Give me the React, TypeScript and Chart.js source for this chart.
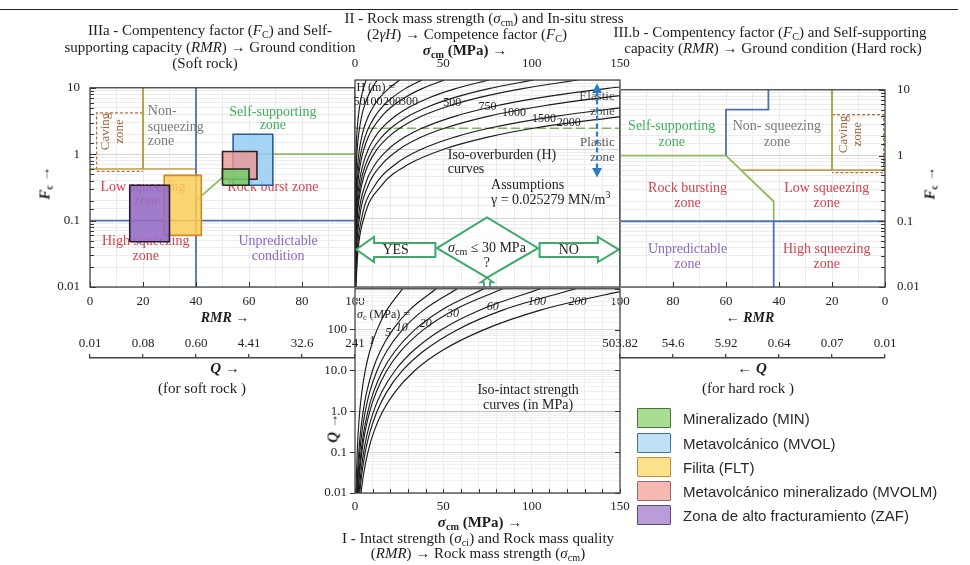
import React, { useEffect, useRef } from 'react';
import { Chart, registerables } from 'chart.js';

Chart.register(...registerables);

const SERIF = '"Liberation Serif", "Times New Roman", serif';
const SANS = '"Liberation Sans", Arial, sans-serif';

// ---------------- DATA ----------------
const softQLabels = ['0.01', '0.08', '0.60', '4.41', '32.6', '241'];
const hardQLabels = ['0.01', '0.07', '0.64', '5.92', '54.6', '503.82'];
const fcMajorValues = [0.01, 0.1, 1, 10];
const fcMajorLabels = ['0.01', '0.1', '1', '10'];
const qMajorValues = [0.01, 0.1, 1, 10, 100];
const qMajorLabels = ['0.01', '0.1', '1.0', '10.0', '100'];
const sigmaMajorValues = [0, 50, 100, 150];

// lithological units plotted on soft-rock panel
const unitNames = [
  'Mineralizado (MIN)',
  'Metavolcánico (MVOL)',
  'Filita (FLT)',
  'Metavolcánico mineralizado (MVOLM)',
  'Zona de alto fracturamiento (ZAF)',
];
const unitRmrMin = [50, 54, 28, 50, 15];
const unitRmrMax = [60, 69, 42, 63, 30];
const unitFcMin = [0.34, 0.34, 0.06, 0.42, 0.048];
const unitFcMax = [0.6, 2.0, 0.48, 1.1, 0.34];

// zone boundaries, soft rock (RMR, Fc)
const softBlueV = [[40, 0.01], [40, 10]];
const softBlueH = [[0, 0.1], [100, 0.1]];
const softOliveV = [[20, 0.6], [20, 10]];
const softTanH = [[0, 0.6], [40, 0.6]];
const softCaving = [[20, 4.2], [2.5, 4.2], [2.5, 0.55], [20, 0.55]];
const softGreen = [[40, 0.1], [40, 0.2], [60, 1], [100, 1]];

// zone boundaries, hard rock (RMR, Fc)
const hardBlueUpper = [[44, 10], [44, 5], [60, 5], [60, 1]];
const hardBlueH = [[0, 0.1], [100, 0.1]];
const hardBlueV = [[42, 0.1], [42, 0.01]];
const hardGreen = [[100, 1], [60, 1], [42, 0.2], [42, 0.1]];
const hardOliveV = [[20, 0.6], [20, 10]];
const hardTanH = [[0, 0.6], [54, 0.6]];
const hardCaving = [[20, 4.2], [0.5, 4.2], [0.5, 0.55], [20, 0.55]];

// iso-overburden curves: sigma_cm (MPa) read at each Fc level
const fcLevels = [0.01, 0.03, 0.1, 0.3, 0.6, 1, 1.5, 2, 3, 4, 5.5, 7.5, 10];
const sigmaH25 = [0.006, 0.019, 0.063, 0.19, 0.38, 0.63, 0.95, 1.26, 1.9, 2.53, 3.48, 4.74, 6.32];
const sigmaH50 = [0.013, 0.038, 0.13, 0.38, 0.76, 1.26, 1.9, 2.53, 3.79, 5.06, 6.95, 9.48, 12.6];
const sigmaH100 = [0.025, 0.076, 0.25, 0.76, 1.52, 2.53, 3.79, 5.06, 7.58, 10.1, 13.9, 19.0, 25.3];
const sigmaH150 = [0.038, 0.114, 0.38, 1.14, 2.28, 3.79, 5.69, 7.58, 11.4, 15.2, 20.9, 28.4, 37.9];
const sigmaH200 = [0.051, 0.152, 0.51, 1.52, 3.03, 5.06, 7.58, 10.1, 15.2, 20.2, 27.8, 37.9, 50.6];
const sigmaH300 = [0.076, 0.228, 0.76, 2.28, 4.55, 7.58, 11.4, 15.2, 22.8, 30.3, 41.7, 56.9, 75.8];
const sigmaH400 = [0.1, 0.303, 1.01, 3.03, 6.07, 10.1, 15.2, 20.2, 30.3, 40.4, 55.6, 75.8, 101];
const sigmaH500 = [0.13, 0.379, 1.26, 3.79, 7.58, 12.6, 19.0, 25.3, 37.9, 50.6, 69.5, 94.8, 126];
const sigmaH750 = [0.19, 0.569, 1.9, 5.69, 11.4, 19.0, 28.4, 37.9, 56.9, 75.8, 104, 142, 190];
const sigmaH1000 = [0.25, 0.758, 2.53, 7.58, 15.2, 25.3, 37.9, 50.6, 75.8, 101, 139, 190, 253];
const sigmaH1500 = [0.38, 1.14, 3.79, 11.4, 22.8, 37.9, 56.9, 75.8, 114, 152, 209, 284, 379];
const sigmaH2000 = [0.51, 1.52, 5.06, 15.2, 30.3, 50.6, 75.8, 101, 152, 202, 278, 379, 506];
const overburdenCurves = [sigmaH25, sigmaH50, sigmaH100, sigmaH150, sigmaH200, sigmaH300, sigmaH400, sigmaH500, sigmaH750, sigmaH1000, sigmaH1500, sigmaH2000];

// iso-intact-strength curves: sigma_cm (MPa) read at each Q level
const qLevels = [0.01, 0.03, 0.1, 0.3, 1, 3, 10, 30, 100, 300, 1000];
const sigmaCi1 = [0.58, 0.84, 1.25, 1.8, 2.69, 3.88, 5.8, 8.37, 12.5, 18.0, 26.9];
const sigmaCi5 = [0.99, 1.44, 2.14, 3.08, 4.6, 6.63, 9.92, 14.3, 21.4, 30.8, 46.0];
const sigmaCi10 = [1.25, 1.81, 2.69, 3.88, 5.8, 8.36, 12.5, 18.0, 26.9, 38.8, 57.9];
const sigmaCi20 = [1.57, 2.28, 3.39, 4.89, 7.3, 10.5, 15.7, 22.7, 33.9, 48.9, 73.0];
const sigmaCi30 = [1.8, 2.61, 3.88, 5.59, 8.36, 12.1, 18.0, 26.0, 38.8, 55.9, 83.6];
const sigmaCi60 = [2.27, 3.29, 4.89, 7.05, 10.5, 15.2, 22.7, 32.8, 48.9, 70.5, 105];
const sigmaCi100 = [2.69, 3.9, 5.8, 8.36, 12.5, 18.0, 26.9, 38.9, 58.0, 83.6, 125];
const sigmaCi200 = [3.39, 4.91, 7.31, 10.5, 15.7, 22.7, 33.9, 48.9, 73.1, 105, 157];
const intactCurves = [sigmaCi1, sigmaCi5, sigmaCi10, sigmaCi20, sigmaCi30, sigmaCi60, sigmaCi100, sigmaCi200];

const elasticPlasticLine = [[0, 2], [150, 2]];

// ---------------- STYLES ----------------
const unitFill = ['rgba(120,205,105,0.85)', 'rgba(150,205,242,0.85)', 'rgba(252,206,90,0.85)', 'rgba(236,150,150,0.8)', 'rgba(150,110,196,0.9)'];
const unitStroke = ['#1f2a1f', '#2a5d96', '#d08a20', '#2a2020', '#231a35'];
const unitOrder = [1, 3, 2, 2, 1];
const legendFill = ['#a9de90', '#bfe1f6', '#fde08c', '#f6b8b0', '#b99cd8'];
const legendStroke = ['#4b6e44', '#4a6c8e', '#b99038', '#8e6a6a', '#5b4a7a'];

const C_BLUE = '#4f73a8';
const C_GREEN = '#8fbc5e';
const C_OLIVE = '#ab9d3c';
const C_TAN = '#c99a4c';
const C_CAVE = '#b07040';
const T_RED = '#d4424f';
const T_GREEN = '#3fae5c';
const T_GREY = '#7a7a7a';
const T_PURPLE = '#8b66c4';
const T_BROWN = '#a4643c';
const C_DEC = '#3da96a';

// ---------------- helpers ----------------
const isPow10 = (v) => v > 0 && Math.abs(Math.log10(v) - Math.round(Math.log10(v))) < 1e-7;
const lookupLabel = (values, labels) => (v) => {
  const i = values.findIndex((m) => Math.abs(v - m) <= Math.abs(m) * 1e-6 + 1e-12);
  return i >= 0 ? labels[i] : '';
};
const pairs = (arr) => arr.map(([x, y]) => ({ x, y }));
const zip = (xs, ys) => xs.map((x, i) => ({ x, y: ys[i] }));
const trimX = (pts, maxX) => {
  const out = [];
  for (const p of pts) {
    out.push(p);
    if (p.x > maxX) break;
  }
  return out;
};
const lineDs = (pts, color, width = 1.6, dash = [], order = 10) => ({
  type: 'line',
  data: pairs(pts),
  borderColor: color,
  borderWidth: width,
  borderDash: dash,
  pointRadius: 0,
  fill: false,
  tension: 0,
  order,
});
const curveDs = (pts) => ({
  type: 'line',
  data: pts,
  borderColor: '#1b1b1b',
  borderWidth: 1.15,
  pointRadius: 0,
  fill: false,
  cubicInterpolationMode: 'monotone',
  order: 5,
});
const logGrid = (ctx) => (ctx.tick && isPow10(ctx.tick.value) ? '#d2d2d2' : '#ececec');
const tickFont = { family: SERIF, size: 13 };

function drawRich(ctx, parts, x, y, o) {
  const size = o.size || 14;
  const family = o.family || SERIF;
  const segs = typeof parts === 'string' ? [[parts, '']] : parts;
  ctx.save();
  ctx.translate(x, y);
  if (o.rotate) ctx.rotate((o.rotate * Math.PI) / 180);
  const fontFor = (f) =>
    `${f.includes('i') || o.italic ? 'italic ' : ''}${f.includes('b') || o.bold ? 'bold ' : ''}${f.includes('s') || f.includes('p') ? Math.round(size * 0.68) : size}px ${family}`;
  let total = 0;
  const widths = segs.map(([t, f = '']) => {
    ctx.font = fontFor(f);
    const w = ctx.measureText(t).width;
    total += w;
    return w;
  });
  const align = o.align || 'center';
  let cx = align === 'center' ? -total / 2 : align === 'right' ? -total : 0;
  ctx.fillStyle = o.color || '#222';
  ctx.textBaseline = 'middle';
  ctx.textAlign = 'left';
  segs.forEach(([t, f = ''], i) => {
    ctx.font = fontFor(f);
    const dy = f.includes('s') ? size * 0.3 : f.includes('p') ? -size * 0.35 : 0;
    ctx.fillText(t, cx, dy);
    cx += widths[i];
  });
  ctx.restore();
}

function makeDeco(cfg) {
  return {
    id: 'deco',
    beforeDatasetsDraw(chart) {
      const xs = chart.scales.x;
      const ys = chart.scales.y;
      (cfg.texts || []).forEach((t) => drawRich(chart.ctx, t.parts, xs.getPixelForValue(t.x), ys.getPixelForValue(t.y), t));
    },
    afterDatasetsDraw(chart) {
      const { ctx, chartArea: a } = chart;
      const xs = chart.scales.x;
      const ys = chart.scales.y;
      (cfg.shapes || []).forEach((s) => {
        ctx.save();
        ctx.beginPath();
        s.pts.forEach(([x, y], i) => {
          const px = xs.getPixelForValue(x);
          const py = ys.getPixelForValue(y);
          if (i === 0) ctx.moveTo(px, py);
          else ctx.lineTo(px, py);
        });
        if (s.closed) ctx.closePath();
        if (s.fill) {
          ctx.fillStyle = s.fill;
          ctx.fill();
        }
        if (s.color) {
          ctx.setLineDash(s.dash || []);
          ctx.strokeStyle = s.color;
          ctx.lineWidth = s.width || 1.5;
          ctx.lineJoin = 'miter';
          ctx.stroke();
        }
        ctx.restore();
      });
      (cfg.topTexts || []).forEach((t) => drawRich(ctx, t.parts, xs.getPixelForValue(t.x), ys.getPixelForValue(t.y), t));
      ctx.save();
      ctx.strokeStyle = '#333';
      ctx.lineWidth = 1;
      (cfg.innerTicks || []).forEach((sp) => {
        const len = sp.len || 4;
        if (sp.axis === 'y') {
          ys.ticks.forEach((t) => {
            if (sp.major && !isPow10(t.value)) return;
            const py = Math.round(ys.getPixelForValue(t.value)) + 0.5;
            const x0 = sp.side === 'left' ? a.left : a.right;
            const dir = sp.side === 'left' ? 1 : -1;
            ctx.beginPath();
            ctx.moveTo(x0, py);
            ctx.lineTo(x0 + dir * (isPow10(t.value) ? len + 2 : len), py);
            ctx.stroke();
          });
        } else {
          for (let v = xs.min; v <= xs.max + 1e-9; v += sp.step) {
            const px = Math.round(xs.getPixelForValue(v)) + 0.5;
            ctx.beginPath();
            ctx.moveTo(px, a.bottom);
            ctx.lineTo(px, a.bottom - len);
            ctx.stroke();
          }
        }
      });
      ctx.restore();
      if (cfg.frame !== false) {
        ctx.save();
        ctx.strokeStyle = '#3a3a3a';
        ctx.lineWidth = 1.2;
        ctx.strokeRect(a.left, a.top, a.right - a.left, a.bottom - a.top);
        ctx.restore();
      }
    },
  };
}

const baseOptions = (padding) => ({
  responsive: false,
  animation: false,
  devicePixelRatio: 1,
  events: [],
  layout: { padding },
  plugins: { legend: { display: false }, tooltip: { enabled: false } },
});

// ---------------- chart configs ----------------
function rmrPanelConfig(hard) {
  const unitDatasets = unitNames.map((name, i) => ({
    type: 'line',
    label: name,
    data: pairs([
      [unitRmrMin[i], unitFcMin[i]],
      [unitRmrMax[i], unitFcMin[i]],
      [unitRmrMax[i], unitFcMax[i]],
      [unitRmrMin[i], unitFcMax[i]],
      [unitRmrMin[i], unitFcMin[i]],
    ]),
    borderColor: unitStroke[i],
    borderWidth: 1.6,
    backgroundColor: unitFill[i],
    fill: 'shape',
    pointRadius: 0,
    tension: 0,
    order: unitOrder[i],
  }));
  const datasets = hard
    ? [
        lineDs(hardBlueUpper, C_BLUE, 1.8),
        lineDs(hardBlueH, C_BLUE, 1.8),
        lineDs(hardBlueV, C_BLUE, 1.8),
        lineDs(hardGreen, C_GREEN, 1.8),
        lineDs(hardOliveV, C_OLIVE, 1.8),
        lineDs(hardTanH, C_TAN, 1.6),
        lineDs(hardCaving, C_CAVE, 1.2, [3, 2]),
      ]
    : [
        ...unitDatasets,
        lineDs(softBlueV, C_BLUE, 1.8),
        lineDs(softBlueH, C_BLUE, 1.8),
        lineDs(softGreen, C_GREEN, 1.8),
        lineDs(softOliveV, C_OLIVE, 1.8),
        lineDs(softTanH, C_TAN, 1.6),
        lineDs(softCaving, C_CAVE, 1.2, [3, 2]),
      ];
  const texts = hard
    ? [
        { x: 80.5, y: 2.75, parts: 'Self-supporting', color: T_GREEN },
        { x: 80.5, y: 1.6, parts: 'zone', color: T_GREEN },
        { x: 40.8, y: 2.75, parts: 'Non- squeezing', color: T_GREY },
        { x: 40.8, y: 1.6, parts: 'zone', color: T_GREY },
        { x: 15.8, y: 2.1, parts: 'Caving', color: T_BROWN, rotate: -90, size: 13 },
        { x: 10.3, y: 2.1, parts: 'zone', color: T_BROWN, rotate: -90, size: 13 },
        { x: 74.5, y: 0.32, parts: 'Rock bursting', color: T_RED },
        { x: 74.5, y: 0.19, parts: 'zone', color: T_RED },
        { x: 22, y: 0.32, parts: 'Low squeezing', color: T_RED },
        { x: 22, y: 0.19, parts: 'zone', color: T_RED },
        { x: 74.5, y: 0.037, parts: 'Unpredictable', color: T_PURPLE },
        { x: 74.5, y: 0.022, parts: 'zone', color: T_PURPLE },
        { x: 22, y: 0.037, parts: 'High squeezing', color: T_RED },
        { x: 22, y: 0.022, parts: 'zone', color: T_RED },
      ]
    : [
        { x: 5.7, y: 2.2, parts: 'Caving', color: T_BROWN, rotate: -90, size: 13 },
        { x: 11, y: 2.2, parts: 'zone', color: T_BROWN, rotate: -90, size: 13 },
        { x: 21.8, y: 4.4, parts: 'Non-', color: T_GREY, align: 'left' },
        { x: 21.8, y: 2.5, parts: 'squeezing', color: T_GREY, align: 'left' },
        { x: 21.8, y: 1.55, parts: 'zone', color: T_GREY, align: 'left' },
        { x: 69, y: 4.2, parts: 'Self-supporting', color: T_GREEN },
        { x: 69, y: 2.7, parts: 'zone', color: T_GREEN },
        { x: 20, y: 0.32, parts: 'Low squeezing', color: T_RED },
        { x: 21.5, y: 0.195, parts: 'zone', color: T_RED },
        { x: 69, y: 0.32, parts: 'Rock burst zone', color: T_RED },
        { x: 21, y: 0.048, parts: 'High squeezing', color: T_RED },
        { x: 21, y: 0.029, parts: 'zone', color: T_RED },
        { x: 71, y: 0.048, parts: 'Unpredictable', color: T_PURPLE },
        { x: 71, y: 0.029, parts: 'condition', color: T_PURPLE },
      ];
  return {
    type: 'line',
    data: { datasets },
    options: {
      ...baseOptions(hard ? { left: 25, top: 10, right: 0, bottom: 0 } : { left: 0, top: 10, right: 25, bottom: 0 }),
      scales: {
        x: {
          type: 'linear',
          min: 0,
          max: 100,
          reverse: hard,
          position: 'bottom',
          afterFit: (s) => {
            s.height = 43;
          },
          ticks: {
            stepSize: 10,
            autoSkip: false,
            maxRotation: 0,
            padding: 7,
            color: '#222',
            font: tickFont,
            callback: (v) => (v % 20 === 0 ? String(v) : ''),
          },
          grid: { color: '#ebebeb', drawTicks: false },
          border: { display: false },
        },
        y: {
          type: 'logarithmic',
          min: 0.01,
          max: 10,
          position: hard ? 'right' : 'left',
          afterFit: (s) => {
            s.width = hard ? 45 : 70;
          },
          ticks: {
            autoSkip: false,
            padding: hard ? 12 : 10,
            color: '#222',
            font: tickFont,
            callback: lookupLabel(fcMajorValues, fcMajorLabels),
          },
          grid: { color: logGrid, drawTicks: false },
          border: { display: false },
        },
      },
    },
    plugins: [
      makeDeco({
        texts,
        innerTicks: [
          { axis: 'y', side: hard ? 'right' : 'left', len: 4 },
          { axis: 'x', step: 20, len: 5 },
        ],
      }),
    ],
  };
}

function stressPanelConfig() {
  const datasets = [
    lineDs(elasticPlasticLine, '#7fb55a', 1.6, [9, 4], 8),
    ...overburdenCurves.map((sig) => curveDs(trimX(zip(sig, fcLevels), 150))),
  ];
  const lbl = (t, x, y) => ({ x, y, parts: t, size: 12 });
  const texts = [
    { x: 0.8, y: 7.6, parts: 'H (m) =', size: 12, align: 'left' },
    lbl('50', 2.6, 4.8),
    lbl('100', 10.5, 4.8),
    lbl('200', 21, 4.8),
    lbl('300', 30.5, 4.8),
    lbl('500', 55, 4.6),
    lbl('750', 75, 4.05),
    lbl('1000', 90, 3.35),
    lbl('1500', 107, 2.75),
    lbl('2000', 121, 2.4),
    { x: 147, y: 5.7, parts: 'Elastic', size: 13, align: 'right', color: '#555' },
    { x: 147, y: 3.45, parts: 'zone', size: 13, align: 'right', color: '#555' },
    { x: 147, y: 1.22, parts: 'Plastic', size: 13, align: 'right', color: '#555' },
    { x: 147, y: 0.74, parts: 'zone', size: 13, align: 'right', color: '#555' },
    { x: 52.5, y: 0.82, parts: 'Iso-overburden (H)', size: 14, align: 'left' },
    { x: 52.5, y: 0.5, parts: 'curves', size: 14, align: 'left' },
    { x: 77, y: 0.3, parts: 'Assumptions', size: 14, align: 'left' },
    { x: 77, y: 0.18, parts: [['γ = 0.025279 MN/m', ''], ['3', 'p']], size: 14, align: 'left' },
  ];
  const topTexts = [
    { x: 74.7, y: 0.0366, parts: [['σ', 'i'], ['cm', 's'], [' ≤ 30 MPa', '']], size: 14 },
    { x: 74.7, y: 0.0218, parts: '?', size: 14 },
    { x: 23, y: 0.0345, parts: 'YES', size: 14 },
    { x: 121, y: 0.0345, parts: 'NO', size: 14 },
  ];
  const shapes = [
    { pts: [[46.4, 0.0366], [74.7, 0.102], [103.6, 0.0366], [74.7, 0.0137]], closed: true, color: C_DEC, width: 2, fill: 'rgba(255,255,255,0.9)' },
    { pts: [[45.5, 0.0434], [10.8, 0.0434], [10.8, 0.0531], [0.7, 0.0349], [10.8, 0.023], [10.8, 0.0272], [45.5, 0.0272]], closed: true, color: C_DEC, width: 2, fill: '#fff' },
    { pts: [[104.5, 0.0434], [137.5, 0.0434], [137.5, 0.0531], [149.3, 0.0349], [137.5, 0.023], [137.5, 0.0272], [104.5, 0.0272]], closed: true, color: C_DEC, width: 2, fill: '#fff' },
    { pts: [[73, 0.0101], [73, 0.0117], [71.2, 0.0117], [74.7, 0.0136], [78.2, 0.0117], [76.4, 0.0117], [76.4, 0.0101]], closed: false, color: C_DEC, width: 1.8, fill: '#fff' },
    { pts: [[137, 0.52], [137, 6.8]], color: '#2b7cc2', width: 2.2, dash: [5, 3] },
    { pts: [[134.2, 6.5], [137, 8.9], [139.8, 6.5]], closed: true, fill: '#2b7cc2' },
    { pts: [[134.2, 0.53], [137, 0.385], [139.8, 0.53]], closed: true, fill: '#2b7cc2' },
  ];
  return {
    type: 'line',
    data: { datasets },
    options: {
      ...baseOptions({ left: 25, top: 0, right: 25, bottom: 3 }),
      scales: {
        x: {
          type: 'linear',
          min: 0,
          max: 150,
          position: 'top',
          afterFit: (s) => {
            s.height = 40;
          },
          ticks: {
            stepSize: 10,
            autoSkip: false,
            maxRotation: 0,
            padding: 9,
            color: '#222',
            font: tickFont,
            callback: (v) => (sigmaMajorValues.includes(v) ? String(v) : ''),
          },
          grid: { color: '#ebebeb', drawTicks: false },
          border: { display: false },
        },
        y: {
          type: 'logarithmic',
          min: 0.01,
          max: 10,
          afterFit: (s) => {
            s.width = 0;
          },
          ticks: { display: false, autoSkip: false },
          grid: { color: logGrid, drawTicks: false },
          border: { display: false },
        },
      },
    },
    plugins: [makeDeco({ texts, topTexts, shapes })],
  };
}

function intactPanelConfig() {
  const datasets = intactCurves.map((sig) => curveDs(trimX(zip(sig, qLevels), 150)));
  const l = (t, x, y) => ({ x, y, parts: t, size: 12, italic: true });
  const texts = [
    { x: 1.2, y: 235, parts: [['σ', 'i'], ['c', 's'], [' (MPa) =', '']], size: 12, align: 'left' },
    l('1', 9.6, 52),
    l('5', 18.8, 82),
    l('10', 26.5, 108),
    l('20', 40, 142),
    l('30', 55.5, 247),
    l('60', 78, 363),
    l('100', 103, 480),
    l('200', 126, 480),
    { x: 98, y: 3.2, parts: 'Iso-intact strength', size: 14 },
    { x: 98, y: 1.38, parts: 'curves (in MPa)', size: 14 },
  ];
  return {
    type: 'line',
    data: { datasets },
    options: {
      ...baseOptions({ left: 0, top: 9, right: 25, bottom: 0 }),
      scales: {
        x: {
          type: 'linear',
          min: 0,
          max: 150,
          position: 'bottom',
          afterFit: (s) => {
            s.height = 27;
          },
          ticks: {
            stepSize: 10,
            autoSkip: false,
            maxRotation: 0,
            padding: 6,
            color: '#222',
            font: tickFont,
            callback: (v) => (sigmaMajorValues.includes(v) ? String(v) : ''),
          },
          grid: { color: '#ededed', drawTicks: false },
          border: { display: false },
        },
        y: {
          type: 'logarithmic',
          min: 0.01,
          max: 1000,
          afterFit: (s) => {
            s.width = 65;
          },
          ticks: {
            autoSkip: false,
            padding: 3,
            color: '#222',
            font: tickFont,
            callback: lookupLabel(qMajorValues, qMajorLabels),
          },
          grid: {
            color: (ctx) => (ctx.tick && Math.abs(ctx.tick.value - 1) < 1e-9 ? '#bdbdbd' : ctx.tick && isPow10(ctx.tick.value) ? '#dadada' : '#f0f0f0'),
            drawTicks: true,
            tickLength: 5,
            tickColor: (ctx) => (ctx.tick && isPow10(ctx.tick.value) && ctx.tick.value < 1000 ? '#333' : 'rgba(0,0,0,0)'),
          },
          border: { display: false },
        },
      },
    },
    plugins: [
      makeDeco({
        texts,
        innerTicks: [
          { axis: 'x', step: 10, len: 4 },
          { axis: 'y', side: 'right', major: true, len: 3 },
        ],
      }),
    ],
  };
}

function qAxisConfig(hard) {
  const labels = hard ? hardQLabels : softQLabels;
  return {
    type: 'line',
    data: { datasets: [] },
    options: {
      ...baseOptions({ left: 40, top: 0, right: 40, bottom: 10 }),
      scales: {
        x: {
          type: 'linear',
          min: 0,
          max: 100,
          reverse: hard,
          position: 'top',
          afterFit: (s) => {
            s.height = 40;
          },
          ticks: {
            stepSize: 20,
            autoSkip: false,
            maxRotation: 0,
            padding: 3,
            color: '#222',
            font: tickFont,
            callback: (v) => labels[Math.round(v / 20)] ?? '',
          },
          grid: { drawOnChartArea: false, drawTicks: true, tickLength: 4, color: '#444', lineWidth: 1.3 },
          border: { display: true, color: '#444', width: 1.5 },
        },
        y: { type: 'linear', display: false, min: 0, max: 1 },
      },
    },
  };
}

// ---------------- components ----------------
function ChartBox({ left, top, width, height, make }) {
  const ref = useRef(null);
  useEffect(() => {
    const chart = new Chart(ref.current, make());
    return () => chart.destroy();
  }, []);
  return <canvas ref={ref} width={width} height={height} style={{ position: 'absolute', left, top, width, height }} />;
}

function Txt({ x, y, a = 'c', s = 15, rot = 0, b = false, it = false, color = '#1c1c1c', family = SERIF, children }) {
  const tx = a === 'c' ? '-50%' : a === 'l' ? '0' : '-100%';
  return (
    <div
      style={{
        position: 'absolute',
        left: x,
        top: y,
        transform: `translate(${tx},-50%)${rot ? ` rotate(${rot}deg)` : ''}`,
        whiteSpace: 'nowrap',
        fontFamily: family,
        fontSize: s,
        lineHeight: 1,
        color,
        fontWeight: b ? 'bold' : 'normal',
        fontStyle: it ? 'italic' : 'normal',
      }}
    >
      {children}
    </div>
  );
}

const Sub = ({ children }) => <span style={{ fontSize: '0.68em', verticalAlign: '-0.3em', lineHeight: 0 }}>{children}</span>;
const I = ({ children }) => <i>{children}</i>;

export default function App() {
  const legendY = [418, 443, 467, 491, 515];
  return (
    <div style={{ position: 'relative', width: 970, height: 565, overflow: 'hidden', background: '#fff' }}>
      <style>{'html,body{margin:0;padding:0;overflow:hidden;background:#fff}'}</style>

      <div style={{ position: 'absolute', left: 0, top: 9, width: 958, height: 0, borderTop: '1.5px solid #222' }} />

      <ChartBox left={20} top={70} width={360} height={260} make={() => rmrPanelConfig(false)} />
      <ChartBox left={595} top={70} width={335} height={260} make={() => rmrPanelConfig(true)} />
      <ChartBox left={290} top={278} width={355} height={242} make={intactPanelConfig} />
      <ChartBox left={330} top={40} width={315} height={250} make={stressPanelConfig} />
      <ChartBox left={50} top={318} width={345} height={52} make={() => qAxisConfig(false)} />
      <ChartBox left={580} top={318} width={345} height={52} make={() => qAxisConfig(true)} />

      {/* titles */}
      <Txt x={210} y={30}>IIIa - Compentency factor (<I>F</I><Sub>C</Sub>) and Self-</Txt>
      <Txt x={210} y={47}>supporting capacity (<I>RMR</I>) → Ground condition</Txt>
      <Txt x={205} y={63}>(Soft rock)</Txt>

      <Txt x={484} y={18}>II - Rock mass strength (<I>σ</I><Sub>cm</Sub>) and In-situ stress</Txt>
      <Txt x={467} y={34}>(2<I>γH</I>) → Competence factor (<I>F</I><Sub>C</Sub>)</Txt>
      <Txt x={465} y={50} b>
        <I>σ</I>
        <Sub>cm</Sub> (MPa) →
      </Txt>

      <Txt x={770} y={32}>III.b - Compentency factor (<I>F</I><Sub>C</Sub>) and Self-supporting</Txt>
      <Txt x={773} y={48}>capacity (<I>RMR</I>) → Ground condition (Hard rock)</Txt>

      {/* axis titles */}
      <Txt x={225} y={318} b s={14}>
        <I>RMR</I> →
      </Txt>
      <Txt x={225} y={368} b s={15}>
        <I>Q</I> →
      </Txt>
      <Txt x={202} y={388}>(for soft rock )</Txt>
      <Txt x={750} y={318} b s={14}>
        ← <I>RMR</I>
      </Txt>
      <Txt x={752} y={368} b s={15}>
        ← <I>Q</I>
      </Txt>
      <Txt x={748} y={388}>(for hard rock )</Txt>

      <Txt x={45} y={183} rot={-90} b s={15}>
        <I>F</I>
        <Sub>c</Sub> →
      </Txt>
      <Txt x={930} y={183} rot={-90} b s={15}>
        <I>F</I>
        <Sub>c</Sub> →
      </Txt>
      <Txt x={333} y={428} rot={-90} b s={15}>
        <I>Q</I> →
      </Txt>

      <Txt x={480} y={522} b>
        <I>σ</I>
        <Sub>cm</Sub> (MPa) →
      </Txt>
      <Txt x={478} y={538}>I - Intact strength (<I>σ</I><Sub>ci</Sub>) and Rock mass quality</Txt>
      <Txt x={478} y={553}>(<I>RMR</I>) → Rock mass strength (<I>σ</I><Sub>cm</Sub>)</Txt>

      {/* legend */}
      {unitNames.map((name, i) => (
        <React.Fragment key={name}>
          <div
            style={{
              position: 'absolute',
              left: 637,
              top: legendY[i] - 10,
              width: 32,
              height: 18,
              background: legendFill[i],
              border: `1.5px solid ${legendStroke[i]}`,
              borderRadius: 1,
            }}
          />
          <Txt x={683} y={legendY[i]} a="l" s={15} family={SANS} color="#2a2a2a">
            {name}
          </Txt>
        </React.Fragment>
      ))}
    </div>
  );
}
